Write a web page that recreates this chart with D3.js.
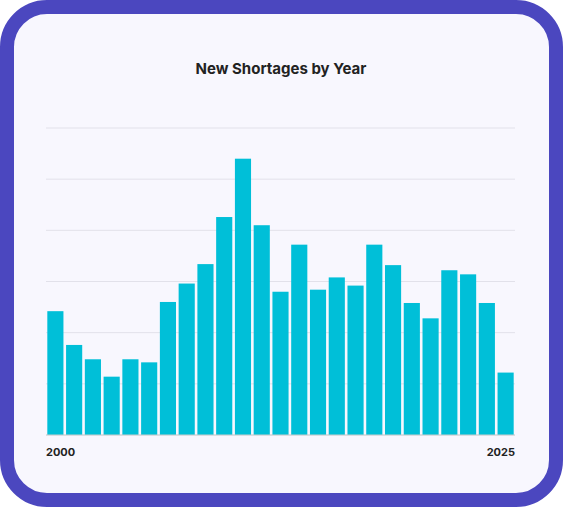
<!DOCTYPE html>
<html><head><meta charset="utf-8">
<script src="https://cdn.jsdelivr.net/npm/d3@7"></script>
<style>body{margin:0;background:#fff}</style></head>
<body><svg id="c" width="563" height="507"></svg>
<script>
const years = ["2000","2001","2002","2003","2004","2005","2006","2007","2008","2009","2010","2011","2012","2013","2014","2015","2016","2017","2018","2019","2020","2021","2022","2023","2024"];
const shortages = [121,88,74,57,74,71,130,148,167,213,270,205,140,186,142,154,146,186,166,129,114,161,157,129,61];
const yTicks = [0,50,100,150,200,250,300];
const axisLabels = ["2000","2025"];

const svg = d3.select("#c");
svg.append("rect").attr("x",7).attr("y",7).attr("width",549).attr("height",493).attr("rx",40)
  .attr("fill","#f8f7fe").attr("stroke","#4b47bf").attr("stroke-width",14);
svg.append("text").attr("x",281).attr("y",74).attr("text-anchor","middle")
  .attr("font-family","Inter, sans-serif").attr("font-weight",700).attr("font-size",15).attr("fill","#222")
  .text("New Shortages by Year");
const x = d3.scaleBand().domain(years).range([46,515]).paddingInner(0.14).paddingOuter(0.07);
const y = d3.scaleLinear().domain([0,300]).range([435,128]);
svg.append("g").selectAll("line").data(yTicks).join("line")
  .attr("x1",46).attr("x2",515).attr("y1",d=>y(d)).attr("y2",d=>y(d))
  .attr("stroke","#e2e1ea").attr("stroke-width",1);
svg.append("g").selectAll("rect").data(years).join("rect")
  .attr("x",d=>x(d)).attr("width",x.bandwidth())
  .attr("y",(d,i)=>y(shortages[i])).attr("height",(d,i)=>y(0)-y(shortages[i]))
  .attr("fill","#00bfd8");
svg.append("line").attr("x1",46).attr("x2",515).attr("y1",y(0)).attr("y2",y(0)).attr("stroke","#ccc");
svg.append("text").attr("x",46).attr("y",456).attr("font-family","Inter, sans-serif").attr("font-weight",700)
  .attr("font-size",11).attr("fill","#222").text(axisLabels[0]);
svg.append("text").attr("x",515).attr("y",456).attr("text-anchor","end").attr("font-family","Inter, sans-serif").attr("font-weight",700)
  .attr("font-size",11).attr("fill","#222").text(axisLabels[1]);
</script></body></html>
